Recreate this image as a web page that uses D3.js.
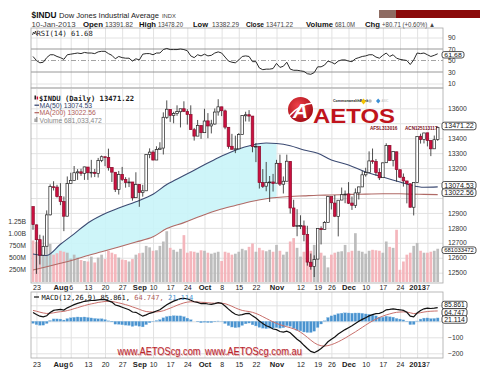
<!DOCTYPE html>
<html>
<head>
<meta charset="utf-8">
<script src="https://cdn.jsdelivr.net/npm/d3@7"></script>
<style>
  body { margin: 0; background: #fff; }
  svg { display: block; font-family: "Liberation Sans", Arial, sans-serif; }
  .mono { font-family: "DejaVu Sans Mono", "Liberation Mono", monospace; }
</style>
</head>
<body>
<svg id="chart" width="500" height="376"></svg>
<script>
// ---- data, one entry per trading day, 20-Jul-2012 .. 10-Jan-2013
const dates = ["2012-07-20","2012-07-23","2012-07-24","2012-07-25","2012-07-26","2012-07-27","2012-07-30","2012-07-31",
  "2012-08-01","2012-08-02","2012-08-03","2012-08-06","2012-08-07","2012-08-08","2012-08-09","2012-08-10",
  "2012-08-13","2012-08-14","2012-08-15","2012-08-16","2012-08-17","2012-08-20","2012-08-21","2012-08-22","2012-08-23","2012-08-24",
  "2012-08-27","2012-08-28","2012-08-29","2012-08-30","2012-08-31","2012-09-04","2012-09-05","2012-09-06","2012-09-07",
  "2012-09-10","2012-09-11","2012-09-12","2012-09-13","2012-09-14","2012-09-17","2012-09-18","2012-09-19","2012-09-20","2012-09-21",
  "2012-09-24","2012-09-25","2012-09-26","2012-09-27","2012-09-28","2012-10-01","2012-10-02","2012-10-03","2012-10-04","2012-10-05",
  "2012-10-08","2012-10-09","2012-10-10","2012-10-11","2012-10-12","2012-10-15","2012-10-16","2012-10-17","2012-10-18","2012-10-19",
  "2012-10-22","2012-10-23","2012-10-24","2012-10-25","2012-10-26","2012-10-31","2012-11-01","2012-11-02",
  "2012-11-05","2012-11-06","2012-11-07","2012-11-08","2012-11-09","2012-11-12","2012-11-13","2012-11-14","2012-11-15","2012-11-16",
  "2012-11-19","2012-11-20","2012-11-21","2012-11-23","2012-11-26","2012-11-27","2012-11-28","2012-11-29","2012-11-30",
  "2012-12-03","2012-12-04","2012-12-05","2012-12-06","2012-12-07","2012-12-10","2012-12-11","2012-12-12","2012-12-13","2012-12-14",
  "2012-12-17","2012-12-18","2012-12-19","2012-12-20","2012-12-21","2012-12-24","2012-12-26","2012-12-27","2012-12-28","2012-12-31",
  "2013-01-02","2013-01-03","2013-01-04","2013-01-07","2013-01-08","2013-01-09","2013-01-10"];

const opens = [12942,12820,12721,12617,12677,12887,13075,13073,13009,12976,12878,13096,13118,13168,13175,13165,
  13207,13169,13172,13164,13251,13276,13271,13203,13172,13057,13158,13124,13102,13107,13002,13090,13036,13048,13292,
  13307,13254,13324,13334,13540,13593,13552,13565,13577,13597,13578,13558,13457,13414,13485,13437,13516,13482,13495,13576,
  13610,13583,13473,13346,13326,13329,13425,13550,13557,13548,13344,13344,13103,13079,13104,13107,13099,13232,
  13092,13112,13245,12933,12811,12815,12813,12756,12570,12542,12591,12795,12789,12837,13009,12966,12877,12986,13022,
  13027,12966,12951,13034,13074,13155,13170,13249,13245,13170,13136,13236,13351,13252,13309,13189,13139,13114,13095,12938,
  13104,13413,13391,13436,13385,13329,13391.82];
const highs = [12942,12822,12754,12748,12917,13091,13112,13088,13099,13010,13144,13169,13214,13193,13195,13209,
  13207,13255,13194,13268,13284,13276,13330,13207,13172,13181,13208,13139,13136,13107,13172,13093,13088,13293,13332,
  13319,13346,13373,13573,13653,13594,13577,13620,13597,13647,13594,13620,13469,13522,13485,13597,13568,13523,13599,13661,
  13610,13592,13473,13429,13417,13434,13552,13577,13588,13548,13368,13344,13193,13241,13147,13161,13255,13290,
  13144,13290,13245,12988,12925,12884,12849,12814,12628,12616,12796,12810,12845,13010,13009,13020,12985,13070,13050,
  13106,13010,13064,13076,13181,13202,13312,13331,13261,13199,13238,13366,13354,13311,13309,13189,13164,13114,13095,13105,
  13412,13430,13436,13436,13385,13418,13478.20];
const lows = [12787,12492,12555,12617,12677,12883,13050,13003,12952,12778,12878,13096,13118,13121,13148,13121,
  13121,13137,13140,13137,13240,13213,13183,13107,13040,13023,13114,13069,13073,12982,13002,12941,13009,13048,13266,
  13252,13254,13323,13291,13529,13509,13500,13550,13472,13575,13491,13457,13384,13414,13396,13437,13400,13432,13491,13551,
  13548,13460,13330,13324,13300,13329,13425,13512,13511,13306,13240,13063,13067,13045,12973,13043,13099,13080,
  13030,13112,12896,12807,12744,12792,12710,12547,12520,12471,12591,12689,12788,12837,12923,12872,12743,12986,12965,
  12960,12920,12933,12990,13074,13143,13170,13229,13149,13120,13136,13236,13251,13211,13109,13133,13076,12964,12938,12883,
  13104,13364,13365,13345,13280,13329,13382.29];
const closes = [12822,12721,12617,12676,12887,13076,13073,13009,12976,12878,13096,13118,13169,13175,13165,13208,
  13169,13172,13164,13250,13276,13271,13203,13173,13057,13158,13124,13103,13107,13001,13091,13036,13048,13292,13307,
  13254,13324,13333,13540,13594,13553,13565,13578,13597,13580,13559,13458,13414,13486,13437,13515,13482,13495,13575,13610,
  13584,13474,13345,13326,13329,13424,13551,13557,13548,13344,13346,13103,13078,13104,13107,13096,13232,13093,
  13112,13246,12933,12811,12815,12815,12756,12571,12542,12588,12796,12788,12836,13010,12968,12878,12985,13022,13026,
  12965,12951,13034,13074,13155,13170,13248,13245,13170,13135,13235,13351,13251,13311,13190,13139,13114,13096,12938,13104,
  13412,13391,13435,13385,13329,13390,13471.22];
// volume, millions
const volumes = [850,820,760,690,820,780,560,590,640,620,600,480,560,500,450,430,
  420,520,400,500,560,470,640,600,570,500,460,450,420,470,560,590,600,740,710,
  640,650,740,830,1040,700,660,620,680,960,600,630,620,600,650,640,600,580,600,620,
  430,620,600,560,580,620,680,650,720,790,620,700,650,630,660,620,760,640,
  560,620,830,900,700,520,620,700,640,760,620,600,540,300,560,600,620,630,760,
  610,640,1000,640,620,580,640,660,650,640,600,830,720,700,1070,250,420,560,600,740,
  800,640,600,600,620,640,681];

// moving averages, read at these day indices
const maIdx   = [0,4,8,12,16,20,25,30,35,39,44,49,54,59,64,68,71,75,79,83,87,92,97,102,107,110,114,118];
const ma50    = [12625,12615,12690,12760,12833,12885,12933,12975,13025,13090,13150,13210,13270,13320,13355,13368,13365,
  13350,13321,13300,13254,13221,13174,13140,13107,13087,13072,13074.53];
const ma200   = [12518,12540,12563,12587,12615,12640,12672,12705,12740,12795,12835,12880,12920,12950,12978,12995,13003,
  13010,13014,13018,13020,13024,13026,13028,13028,13026,13024,13022.56];
const fillEnd = 71; // cyan band stops at 1-Nov

const rsi = [57,50,46,47,55,60,60,57,55,52,60,61,62,63,62,64,63,63,62,65,66,66,62,59,53,57,55,54,54,49,53,51,61,62,62,
  60,63,63,69,71,69,69,69,70,69,67,58,55,60,58,61,58,59,63,65,63,56,49,47,46,51,57,58,57,48,48,37,34,35,35,36,45,38,
  40,47,35,33,33,32,31,27,26,29,39,39,42,49,47,44,49,51,51,49,48,53,55,57,58,60,60,56,54,59,63,57,60,54,52,51,50,43,51,
  63,62,63,60,57,59,61.68];

const macd = [55,42,32,28,35,55,68,72,74,70,84,94,104,112,118,125,128,130,131,134,137,135,128,120,102,96,88,80,72,58,56,
  44,32,40,50,56,64,72,88,104,115,126,134,142,144,140,132,122,118,110,112,108,106,110,116,112,96,76,58,44,38,42,48,50,34,
  20,2,-14,-28,-36,-48,-52,-64,-68,-62,-72,-92,-112,-128,-150,-170,-188,-196,-185,-170,-152,-128,-112,-98,-80,-66,-52,
  -40,-28,-14,0,12,22,34,42,48,50,58,72,74,78,74,72,68,56,32,28,52,68,78,82,80,82,85.861];
const signal = [68,63,57,52,49,50,53,57,60,62,67,72,79,85,92,98,104,109,113,118,121,124,125,124,120,115,110,104,98,90,83,
  75,67,61,59,58,59,61,66,74,82,91,100,108,115,120,122,122,121,119,118,116,114,113,114,113,110,103,94,84,75,68,64,61,56,
  49,40,29,18,7,-4,-13,-21,-28,-34,-40,-47,-55,-68,-83,-100,-118,-134,-146,-153,-155,-152,-146,-138,-128,-117,-105,
  -92,-79,-66,-52,-38,-24,-10,2,14,24,32,40,46,52,56,58,59,58,53,48,50,54,58,61,63,64,64.747];
const hist = [-13,-21,-25,-24,-14,5,15,15,14,8,17,22,25,27,26,27,24,21,18,16,16,11,3,-4,-18,-19,-22,-24,-26,-32,-27,
  -31,-35,-21,-9,-2,5,11,22,30,33,35,34,34,29,20,10,0,-3,-9,-6,-8,-8,-3,2,-1,-14,-27,-36,-40,-37,-26,-16,-11,-22,
  -29,-38,-43,-46,-43,-44,-39,-43,-40,-28,-32,-45,-57,-60,-67,-70,-70,-62,-39,-17,3,24,34,40,48,51,53,
  52,51,52,52,50,46,44,40,34,26,26,32,28,26,18,14,9,-2,-21,-20,2,14,20,21,17,18,21.114];

// date axis labels
const tickIdx    = [1,8,11,16,21,26,31,35,40,45,50,55,60,65,71,78,83,87,92,97,102,107,112,115];
const tickLabels = ["23","Aug","6","13","20","27","Sep","10","17","24","Oct","8","15","22","Nov","12","19","26","Dec","10","17","24","2013","7"];
const tickBold   = ["Aug","Sep","Oct","Nov","Dec","2013"];

const priceTicks = [12500,12600,12700,12800,12900,13000,13100,13200,13300,13400,13500,13600];
const priceTickShown = [12500,12600,12700,12800,12900,13200,13300,13400,13600];
const volTicks = [250,500,750,1000,1250];
const volTickLabels = ["250M","500M","750M","1.00B","1.25B"];
const rsiTicks = [10,30,50,70,90];
const macdTicks = [-200,-100,0,100];
const macdTickShown = [-200,-100];

// ---- layout
const L = 31, R = 443;
const pRsi = { top: 28, bottom: 88 };
const pPrice = { top: 88, bottom: 283 };
const pMacd = { top: 292, bottom: 358 };

const svg = d3.select("#chart");
svg.append("rect").attr("width", 500).attr("height", 376).attr("fill", "#fff");

const x = d3.scaleLinear().domain([0, 118]).range([33, 437.7]);
const yP = d3.scaleLinear().domain([12431, 13736]).range([pPrice.bottom, pPrice.top]);
const yV = d3.scaleLinear().domain([0, 1250]).range([pPrice.bottom - 1, 221]);
const yR = d3.scaleLinear().domain([10, 90]).range([83.5, 37.5]);
const yM = d3.scaleLinear().domain([-200, 100]).range([353.3, 305.3]);

const gridCol = "#e2e2e2", borderCol = "#a8a8a8", txtCol = "#333";

function panelGrid(p, yScale, yTicks) {
  const g = svg.append("g");
  // vertical grid
  g.append("g").attr("transform", `translate(0,${p.bottom})`)
    .call(d3.axisBottom(x).tickValues(tickIdx).tickSize(-(p.bottom - p.top)).tickFormat(""))
    .call(a => a.select(".domain").remove())
    .call(a => a.selectAll("line").attr("stroke", gridCol));
  // horizontal grid
  g.append("g").attr("transform", `translate(${L},0)`)
    .call(d3.axisRight(yScale).tickValues(yTicks).tickSize(R - L).tickFormat(""))
    .call(a => a.select(".domain").remove())
    .call(a => a.selectAll("line").attr("stroke", gridCol));
  return g;
}
function panelBorder(p) {
  svg.append("rect").attr("x", L).attr("y", p.top).attr("width", R - L).attr("height", p.bottom - p.top)
    .attr("fill", "none").attr("stroke", borderCol).attr("stroke-width", 0.8);
}
function rightLabels(scale, vals, fmt) {
  svg.append("g").attr("transform", `translate(${R + 2},0)`)
    .call(d3.axisRight(scale).tickValues(vals).tickSize(0).tickFormat(fmt))
    .call(a => a.select(".domain").remove())
    .call(a => a.selectAll("text").attr("fill", txtCol).style("font-size", "6.8px")
      .attr("font-family", "Liberation Sans, Arial, sans-serif"));
}
function tag(yc, text, w, h = 7.6) {
  const g = svg.append("g");
  g.append("rect").attr("x", R - 1).attr("y", yc - h / 2).attr("width", w).attr("height", h).attr("rx", 2.2)
    .attr("fill", "#fff").attr("stroke", "#222").attr("stroke-width", 0.8);
  g.append("text").attr("x", R + 1.3).attr("y", yc + h * 0.29).attr("fill", "#111")
    .style("font-size", (h * 0.84) + "px").attr("textLength", w - 4.5).attr("lengthAdjust", "spacingAndGlyphs").text(text);
}
function dateLabels(yBase) {
  const g = svg.append("g").attr("transform", `translate(0,${yBase})`)
    .call(d3.axisBottom(x).tickValues(tickIdx).tickSize(0).tickPadding(0).tickFormat((d, k) => tickLabels[k]));
  g.select(".domain").remove();
  g.selectAll("text").attr("fill", "#222").attr("dy", 0).attr("y", 0)
    .attr("font-family", "Liberation Sans, Arial, sans-serif")
    .attr("font-weight", (d, k) => tickBold.includes(tickLabels[k]) ? "bold" : "normal")
    .style("font-size", (d, k) => tickBold.includes(tickLabels[k]) ? "7.6px" : "7px");
}

// ---- header
const head = svg.append("g");
head.append("text").attr("x", 31.5).attr("y", 17.5).attr("fill", "#111").attr("font-weight", "bold")
  .style("font-size", "8.8px").attr("textLength", 25).attr("lengthAdjust", "spacingAndGlyphs").text("$INDU");
head.append("text").attr("x", 59).attr("y", 17.5).attr("fill", "#222").style("font-size", "7.6px")
  .attr("textLength", 100).attr("lengthAdjust", "spacingAndGlyphs").text("Dow Jones Industrial Average");
head.append("text").attr("x", 162).attr("y", 17.5).attr("fill", "#444").style("font-size", "5.8px").text("INDX");

// [x, text, bold, width]
const hdr = [
  [31.5, "10-Jan-2013", false, 44], [83, "Open", true, 20], [105, "13391.82", false, 28], [139, "High", true, 17],
  [158, "13478.20", false, 25], [193, "Low", true, 15], [212, "13382.29", false, 27], [246, "Close", true, 18],
  [266, "13471.22", false, 27], [306, "Volume", true, 27], [335, "681.0M", false, 20], [365, "Chg", true, 15],
  [382, "+80.71 (+0.60%) \u25B2", false, 53]
];
hdr.forEach(([hx, t, b, w]) => {
  head.append("text").attr("x", hx).attr("y", 26.5).attr("fill", b ? "#111" : "#444")
    .attr("font-weight", b ? "bold" : "normal").style("font-size", b ? "7.4px" : "6.8px")
    .attr("textLength", w).attr("lengthAdjust", "spacingAndGlyphs").text(t);
});
// red strip top right
head.append("rect").attr("x", 379).attr("y", 10).attr("width", 17).attr("height", 8).attr("fill", "#8e6b62");
head.append("rect").attr("x", 396).attr("y", 10).attr("width", 84).attr("height", 8).attr("fill", "#8a0a0a");

// ---- RSI panel
panelGrid(pRsi, yR, [10, 90]);
[70, 30].forEach(v => svg.append("line").attr("x1", L).attr("x2", R).attr("y1", yR(v)).attr("y2", yR(v))
  .attr("stroke", "#8c8c8c").attr("stroke-width", 0.9));
svg.append("line").attr("x1", L).attr("x2", R).attr("y1", yR(50)).attr("y2", yR(50))
  .attr("stroke", "#9a9a9a").attr("stroke-width", 0.9).attr("stroke-dasharray", "5,2,1,2");
svg.append("path").datum(rsi)
  .attr("d", d3.line().x((d, i) => x(i)).y(d => yR(d)))
  .attr("fill", "none").attr("stroke", "#2a2a2a").attr("stroke-width", 1);
panelBorder(pRsi);
rightLabels(yR, rsiTicks, d3.format("d"));
svg.append("text").attr("class", "mono").attr("x", 36.5).attr("y", 35.5).attr("fill", "#222")
  .style("font-size", "7.2px").text("RSI(14) 61.68");
svg.append("path").attr("d", "M32.5,35 l1,-3 l1,2 l1,-3 l1,4").attr("fill", "none").attr("stroke", "#222").attr("stroke-width", 0.8);
tag(54.8, "61.68", 22, 6.4);

// ---- price panel
panelGrid(pPrice, yP, priceTicks);

// cyan band between MAs
const maPts = maIdx.map((d, k) => ({ i: d, a: ma50[k], b: ma200[k] }));
svg.append("path").datum(maPts.filter(d => d.i <= fillEnd))
  .attr("d", d3.area().curve(d3.curveMonotoneX).x(d => x(d.i)).y0(d => yP(d.b)).y1(d => yP(d.a)))
  .attr("fill", "#c9f4f8").attr("opacity", 0.9);

// volume bars
const bw = 2.7;
svg.append("g").selectAll("rect").data(volumes).join("rect")
  .attr("x", (d, i) => x(i) - bw / 2).attr("width", bw)
  .attr("y", d => yV(d)).attr("height", d => yV(0) - yV(d))
  .attr("fill", (d, i) => (i === 0 ? closes[0] < opens[0] : closes[i] < closes[i - 1]) ? "#f3b2b8" : "#b9b9b9")
  .attr("opacity", 0.95);

// MA lines
svg.append("path").datum(maPts)
  .attr("d", d3.line().curve(d3.curveMonotoneX).x(d => x(d.i)).y(d => yP(d.b)))
  .attr("fill", "none").attr("stroke", "#b06a66").attr("stroke-width", 1.1);
svg.append("path").datum(maPts)
  .attr("d", d3.line().curve(d3.curveMonotoneX).x(d => x(d.i)).y(d => yP(d.a)))
  .attr("fill", "none").attr("stroke", "#3b4a72").attr("stroke-width", 1.1);

// candles
const cw = 2.6;
const candles = svg.append("g").selectAll("g").data(closes).join("g");
candles.append("line")
  .attr("x1", (d, i) => x(i)).attr("x2", (d, i) => x(i))
  .attr("y1", (d, i) => yP(highs[i])).attr("y2", (d, i) => yP(lows[i]))
  .attr("stroke", "#222").attr("stroke-width", 0.8);
candles.append("rect")
  .attr("x", (d, i) => x(i) - cw / 2).attr("width", cw)
  .attr("y", (d, i) => yP(Math.max(opens[i], d)))
  .attr("height", (d, i) => Math.max(0.8, Math.abs(yP(opens[i]) - yP(d))))
  .attr("fill", (d, i) => d < opens[i] ? "#cc1040" : "#fff")
  .attr("stroke", (d, i) => d < opens[i] ? "#8a0a2a" : "#222").attr("stroke-width", 0.7);

panelBorder(pPrice);
rightLabels(yP, priceTickShown, d3.format("d"));
// volume labels on the left
svg.append("g").attr("transform", `translate(${L - 2},0)`)
  .call(d3.axisLeft(yV).tickValues(volTicks).tickSize(0).tickFormat((d, k) => volTickLabels[k]))
  .call(a => a.select(".domain").remove())
  .call(a => a.selectAll("text").attr("fill", txtCol).style("font-size", "6.8px")
    .attr("font-family", "Liberation Sans, Arial, sans-serif"));

// legend
const lg = svg.append("g");
lg.append("text").attr("class", "mono").attr("x", 39).attr("y", 100.5).attr("fill", "#1a1a1a")
  .style("font-size", "7.2px").attr("font-weight", "bold").text("$INDU (Daily) 13471.22");
lg.append("rect").attr("x", 34.5).attr("y", 95.5).attr("width", 1.5).attr("height", 4).attr("fill", "#222");
lg.append("rect").attr("x", 36.6).attr("y", 96.5).attr("width", 1.5).attr("height", 3).attr("fill", "#cc1040");
[[107.5, "#2f3e6a", "MA(50) 13074.53"], [115, "#b0605a", "MA(200) 13022.56"]].forEach(([ly, c, t]) => {
  lg.append("line").attr("x1", 34.5).attr("x2", 39).attr("y1", ly - 2.3).attr("y2", ly - 2.3).attr("stroke", c).attr("stroke-width", 1.2);
  lg.append("text").attr("x", 39.5).attr("y", ly).attr("fill", c).style("font-size", "6.8px").text(t);
});
lg.append("rect").attr("x", 34.5).attr("y", 118.5).attr("width", 1.2).attr("height", 3.5).attr("fill", "#888");
lg.append("rect").attr("x", 36.2).attr("y", 117).attr("width", 1.2).attr("height", 5).attr("fill", "#888");
lg.append("text").attr("x", 39.5).attr("y", 122.5).attr("fill", "#888").style("font-size", "6.8px").text("Volume 681,033,472");

// AETOS logo
const logo = svg.append("g");
const grad = svg.append("defs").append("radialGradient").attr("id", "lg").attr("cx", "40%").attr("cy", "35%").attr("r", "65%");
grad.append("stop").attr("offset", "0%").attr("stop-color", "#f0434a");
grad.append("stop").attr("offset", "100%").attr("stop-color", "#a80f18");
logo.append("circle").attr("cx", 300.5).attr("cy", 109.5).attr("r", 12.5).attr("fill", "url(#lg)");
logo.append("text").attr("x", 300.5).attr("y", 117.5).attr("text-anchor", "middle").attr("fill", "#fff")
  .attr("font-weight", "bold").attr("font-style", "italic").style("font-size", "21px").text("A");
logo.append("path").attr("d", "M289,116 Q300,104 313,103").attr("fill", "none").attr("stroke", "#fff").attr("stroke-width", 1.4);
logo.append("text").attr("x", 313).attr("y", 122.5).attr("fill", "#c0141c").attr("font-weight", "bold")
  .style("font-size", "20px").attr("textLength", 82).attr("lengthAdjust", "spacingAndGlyphs").text("AETOS");
logo.append("text").attr("x", 333).attr("y", 101.5).attr("fill", "#222").style("font-size", "3.6px")
  .attr("font-weight", "bold").text("CommonwealthBank");
logo.append("path").attr("d", "M361,101.5 l2.5,-3 l2.5,3 l-2.5,3 z").attr("fill", "#f5c400");
logo.append("circle").attr("cx", 370).attr("cy", 101).attr("r", 1.8).attr("fill", "#bbb");
logo.append("path").attr("d", "M376,101 l2.2,-2.6 l2.2,2.6 l-2.2,2.6 z").attr("fill", "#3a8fd6");
logo.append("text").attr("x", 381.5).attr("y", 101.5).attr("fill", "#bbb").style("font-size", "3px").text("ASIC");
logo.append("text").attr("x", 370).attr("y", 129.5).attr("fill", "#7a1018").style("font-size", "4.6px")
  .attr("font-weight", "bold").text("AFSL313016");
logo.append("text").attr("x", 405).attr("y", 129.5).attr("fill", "#7a1018").style("font-size", "4.6px")
  .attr("font-weight", "bold").text("ACN125113117");

// right tags on price panel
tag(126, "13471.22", 34);
tag(yP(13074.53) - 1.5, "13074.53", 34);
tag(yP(13022.56) - 2, "13022.56", 34);
tag(250.2, "681033472", 34, 6.6);

// date labels between price and MACD
dateLabels(290.2);

// ---- MACD panel
panelGrid(pMacd, yM, macdTicks);
svg.append("g").selectAll("rect").data(hist).join("rect")
  .attr("x", (d, i) => x(i) - 1.35).attr("width", 2.7)
  .attr("y", d => Math.min(yM(0), yM(d))).attr("height", d => Math.abs(yM(d) - yM(0)))
  .attr("fill", "#4a93cf").attr("stroke", "#8fc0e6").attr("stroke-width", 0.3);
svg.append("path").datum(signal)
  .attr("d", d3.line().x((d, i) => x(i)).y(d => yM(d)))
  .attr("fill", "none").attr("stroke", "#c9706c").attr("stroke-width", 1);
svg.append("path").datum(macd)
  .attr("d", d3.line().x((d, i) => x(i)).y(d => yM(d)))
  .attr("fill", "none").attr("stroke", "#111").attr("stroke-width", 1.2);
panelBorder(pMacd);
rightLabels(yM, macdTickShown, d3.format("d"));
const mt = svg.append("text").attr("class", "mono").attr("x", 41.5).attr("y", 299.5).style("font-size", "7px");
mt.append("tspan").attr("fill", "#111").text("MACD(12,26,9) 85.861,");
mt.append("tspan").attr("fill", "#b0605a").text(" 64.747,");
mt.append("tspan").attr("fill", "#4a93cf").text(" 21.114");
svg.append("line").attr("x1", 34).attr("x2", 39).attr("y1", 297).attr("y2", 297).attr("stroke", "#111").attr("stroke-width", 1.2);
tag(yM(85.861) - 2.5, "85.861", 25);
tag(yM(64.747) + 1.5, "64.747", 25);
tag(yM(21.114) + 1.5, "21.114", 25);

// bottom date labels
dateLabels(366.5);

// watermark
[[117.5, "www.AETOScg.com", 83], [205, "www.AETOScg.com.au", 97]].forEach(([wx, t, w]) => {
  svg.append("text").attr("x", wx + 0.7).attr("y", 355.7).attr("fill", "#e9b1b1").style("font-size", "10.5px")
    .attr("textLength", w).attr("lengthAdjust", "spacingAndGlyphs").text(t);
  svg.append("text").attr("x", wx).attr("y", 355).attr("fill", "#b8242c").style("font-size", "10.5px")
    .attr("textLength", w).attr("lengthAdjust", "spacingAndGlyphs").text(t);
});
</script>
</body>
</html>
